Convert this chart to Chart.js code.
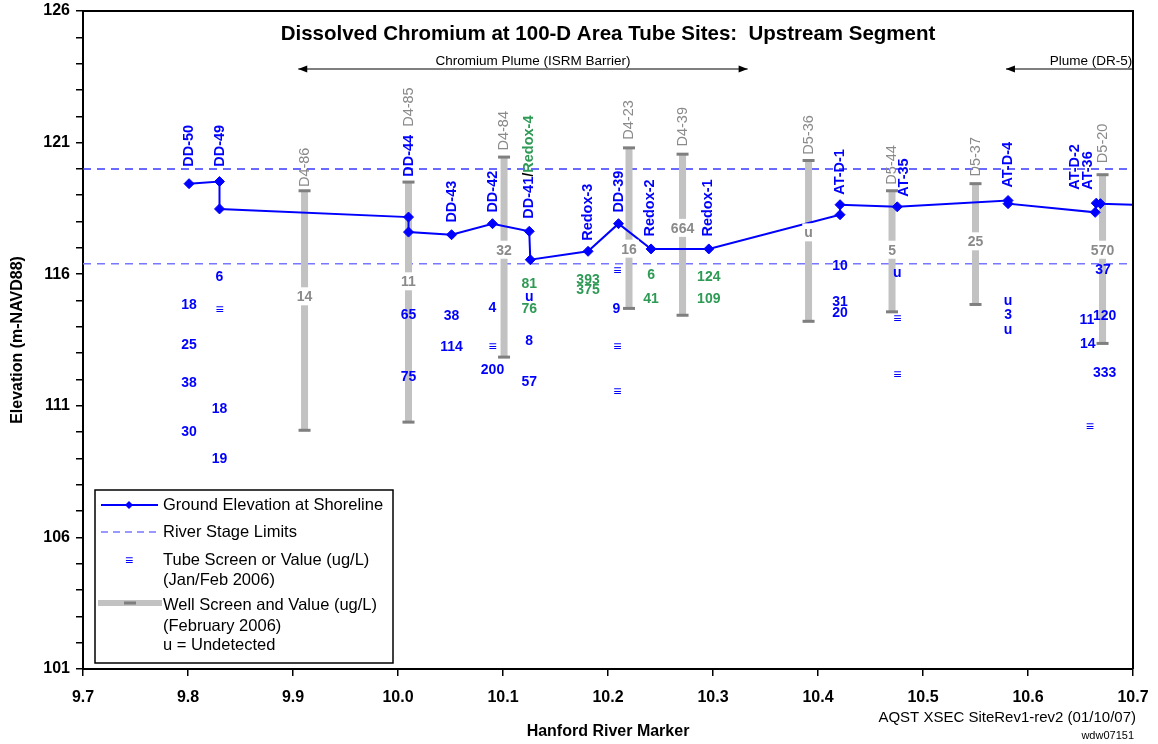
<!DOCTYPE html>
<html>
<head>
<meta charset="utf-8">
<title>Dissolved Chromium at 100-D Area Tube Sites</title>
<script src="https://cdn.jsdelivr.net/npm/chart.js@4.4.0/dist/chart.umd.min.js"></script>
<style>
  html, body { margin: 0; padding: 0; background: #fff; }
  #grafico { display: block; }
</style>
</head>
<body>
<canvas id="grafico" width="1158" height="744"></canvas>
<script>
/* =========================================================
   Seção transversal do cromo dissolvido — trecho a montante
   ========================================================= */

// Elevação do terreno na margem (marco do rio x m-NAVD88), na ordem da linha
const marcoTerreno = [9.801, 9.83, 9.83, 10.01, 10.01, 10.051, 10.09, 10.125, 10.126, 10.181,
                      10.21, 10.241, 10.296, 10.421, 10.421, 10.4755, 10.581, 10.581, 10.664, 10.665,
                      10.669, 10.7];
const elevTerreno = [119.44, 119.52, 118.48, 118.17, 117.60, 117.50, 117.92, 117.63, 116.55, 116.87,
                     117.92, 116.96, 116.96, 118.26, 118.64, 118.56, 118.80, 118.68, 118.35, 118.70,
                     118.68, 118.64];

// Limites do nível do rio
const nivelRio = [120.0, 116.4];

// Poços: filtro (topo/base), valor (ug/L) e posição do valor
const pocoNomes = ["D4-86", "D4-85", "D4-84", "D4-23", "D4-39", "D5-36", "D5-44", "D5-37", "D5-20"];
const pocoMarco = [9.911, 10.01, 10.101, 10.22, 10.271, 10.391, 10.4705, 10.55, 10.671];
const pocoTopo = [119.17, 119.50, 120.45, 120.80, 120.56, 120.32, 119.17, 119.44, 119.78];
const pocoBase = [110.07, 110.38, 112.85, 114.70, 114.44, 114.21, 114.57, 114.85, 113.37];
const pocoValor = ["14", "11", "32", "16", "664", "u", "5", "25", "570"];
const pocoElevValor = [115.16, 115.73, 116.93, 116.97, 117.76, 117.59, 116.93, 117.25, 116.93];
const pocoElevNome = [119.31, 121.60, 120.70, 121.11, 120.85, 120.54, 119.40, 119.71, 120.22];

// Nomes dos tubos (rótulo vertical a partir da elevação indicada)
const tuboNomes = ["DD-50", "DD-49", "DD-44", "DD-43", "DD-42", "DD-41/Redox-4", "Redox-3", "DD-39",
                   "Redox-2", "Redox-1", "AT-D-1", "AT-35", "AT-D-4", "AT-D-2", "AT-36"];
const tuboMarco = [9.801, 9.83, 10.01, 10.051, 10.0905, 10.125, 10.181, 10.2105,
                   10.24, 10.2955, 10.421, 10.482, 10.5807, 10.6448, 10.657];
const tuboElevNome = [120.08, 120.08, 119.70, 117.96, 118.34, 118.11, 117.27, 118.34,
                      117.43, 117.43, 119.02, 118.94, 119.29, 119.21, 119.21];

// Valores nos tubos DD / AT (ug/L; "≡" = filtro sem valor, "u" = não detectado)
const tuboValMarco = [9.801, 9.801, 9.801, 9.801, 9.83, 9.83, 9.83, 9.83,
                      10.01, 10.01, 10.051, 10.051, 10.09, 10.09, 10.09,
                      10.125, 10.125, 10.125, 10.209, 10.208, 10.209, 10.209,
                      10.421, 10.421, 10.421, 10.4755, 10.4755, 10.4755,
                      10.581, 10.581, 10.581, 10.656, 10.657, 10.659, 10.6715, 10.673, 10.673];
const tuboValElev = [114.87, 113.33, 111.90, 110.04, 115.92, 114.66, 110.93, 109.00,
                     114.49, 112.13, 114.43, 113.26, 114.74, 113.26, 112.38,
                     115.16, 113.48, 111.94, 116.17, 114.72, 113.26, 111.56,
                     116.33, 114.97, 114.57, 116.07, 114.34, 112.19,
                     115.00, 114.47, 113.90, 114.28, 113.37, 110.23, 116.20, 114.43, 112.26];
const tuboValTexto = ["18", "25", "38", "30", "6", "≡", "18", "19",
                      "65", "75", "38", "114", "4", "≡", "200",
                      "u", "8", "57", "≡", "9", "≡", "≡",
                      "10", "31", "20", "u", "≡", "≡",
                      "u", "3", "u", "11", "14", "≡", "37", "120", "333"];

// Valores nos tubos Redox
const redoxValMarco = [10.125, 10.125, 10.181, 10.181, 10.241, 10.241, 10.296, 10.296];
const redoxValElev = [115.67, 114.72, 115.82, 115.44, 116.01, 115.10, 115.92, 115.10];
const redoxValTexto = ["81", "76", "393", "375", "6", "41", "124", "109"];

// Plumas indicadas no topo (marco inicial / final / centro do texto)
const plumaNomes = ["Chromium Plume (ISRM Barrier)", "Plume (DR-5)"];
const plumaInicio = [9.905, 10.579];
const plumaFim = [10.333, 10.7];
const plumaTexto = [10.1286, 10.66];

// ---------- Estilo ----------
const FONTE = "'Liberation Sans', Arial, sans-serif";
const AZUL = "#0000ff";
const VERDE = "#2e9a55";
const CINZA = "#8a8a8a";

/** Conjunto só de texto: pontos invisíveis posicionados pelas escalas */
function conjuntoTexto(marcos, elevs, textos, extra) {
  return Object.assign({
    data: marcos.map((m, i) => ({ x: m, y: elevs[i] })),
    textos,
    showLine: false,
    pointRadius: 0,
    pointHoverRadius: 0,
    order: 0,
  }, extra);
}

/** Texto vertical (de baixo para cima) a partir de yBase; aceita "A/B" em cores */
function textoVertical(ctx, texto, x, yBase, cor) {
  ctx.save();
  ctx.translate(x, yBase);
  ctx.rotate(-Math.PI / 2);
  ctx.textAlign = "left";
  ctx.textBaseline = "middle";
  let partes = [[texto, cor]];
  if (texto.includes("/")) {
    const [a, b] = texto.split("/");
    partes = [[a, AZUL], ["/", "#000"], [b, VERDE]];
  }
  let pos = 0;
  partes.forEach(([t, c]) => {
    ctx.fillStyle = c;
    ctx.fillText(t, pos, 0);
    pos += ctx.measureText(t).width;
  });
  ctx.restore();
}

function seta(ctx, x, y, dir) {
  ctx.beginPath();
  ctx.moveTo(x, y);
  ctx.lineTo(x - dir * 9, y - 3.5);
  ctx.lineTo(x - dir * 9, y + 3.5);
  ctx.closePath();
  ctx.fill();
}

// ---------- Plugins ----------

// Desenha os textos dos conjuntos que têm "textos"
const pluginTextos = {
  id: "textos",
  afterDatasetsDraw(chart) {
    const ctx = chart.ctx;
    chart.data.datasets.forEach((ds, i) => {
      if (!ds.textos) return;
      const meta = chart.getDatasetMeta(i);
      ctx.save();
      ctx.font = ds.fonte;
      meta.data.forEach((p, j) => {
        const t = ds.textos[j];
        if (ds.vertical) {
          textoVertical(ctx, t, p.x, p.y, ds.corTexto);
          return;
        }
        if (ds.fundoBranco) {
          const w = Math.max(ctx.measureText(t).width + 4, 12);
          ctx.fillStyle = "#fff";
          ctx.fillRect(p.x - w / 2, p.y - 9, w, 18);
        }
        ctx.fillStyle = ds.corTexto;
        ctx.textAlign = "center";
        ctx.textBaseline = "middle";
        ctx.fillText(t, p.x, p.y + 1);
      });
      ctx.restore();
    });
  },
};

// Moldura, título interno, plumas, legenda e notas
const pluginMoldura = {
  id: "moldura",
  afterDraw(chart) {
    const { ctx, chartArea: a, scales } = chart;
    ctx.save();
    ctx.strokeStyle = "#000";
    ctx.lineWidth = 2;
    ctx.beginPath();
    ctx.moveTo(a.left, a.top);
    ctx.lineTo(a.right, a.top);
    ctx.lineTo(a.right, a.bottom);
    ctx.stroke();

    // título
    ctx.fillStyle = "#000";
    ctx.font = "bold 20.5px " + FONTE;
    ctx.textAlign = "center";
    ctx.textBaseline = "middle";
    ctx.fillText("Dissolved Chromium at 100-D Area Tube Sites:  Upstream Segment",
                 (a.left + a.right) / 2, a.top + 23);

    // plumas
    ctx.font = "13.5px " + FONTE;
    ctx.lineWidth = 1.2;
    plumaNomes.forEach((nome, i) => {
      const x1 = scales.x.getPixelForValue(plumaInicio[i]);
      const x2 = scales.x.getPixelForValue(plumaFim[i]);
      const y = a.top + 58;
      ctx.beginPath();
      ctx.moveTo(x1, y);
      ctx.lineTo(x2, y);
      ctx.stroke();
      seta(ctx, x1, y, -1);
      if (plumaFim[i] < scales.x.max) seta(ctx, x2, y, 1);
      ctx.fillText(nome, scales.x.getPixelForValue(plumaTexto[i]), a.top + 50);
    });

    // legenda
    const x0 = a.left + 12, y0 = a.bottom - 179, tx = x0 + 68;
    ctx.fillStyle = "#fff";
    ctx.fillRect(x0, y0, 298, 173);
    ctx.strokeStyle = "#000";
    ctx.lineWidth = 1.5;
    ctx.strokeRect(x0, y0, 298, 173);

    ctx.strokeStyle = AZUL;
    ctx.lineWidth = 2;
    ctx.beginPath();
    ctx.moveTo(x0 + 6, y0 + 15);
    ctx.lineTo(x0 + 63, y0 + 15);
    ctx.stroke();
    ctx.fillStyle = AZUL;
    ctx.beginPath();
    ctx.moveTo(x0 + 34, y0 + 11);
    ctx.lineTo(x0 + 38, y0 + 15);
    ctx.lineTo(x0 + 34, y0 + 19);
    ctx.lineTo(x0 + 30, y0 + 15);
    ctx.closePath();
    ctx.fill();

    ctx.strokeStyle = "#7777ff";
    ctx.lineWidth = 1.5;
    ctx.setLineDash([7, 5]);
    ctx.beginPath();
    ctx.moveTo(x0 + 6, y0 + 42);
    ctx.lineTo(x0 + 66, y0 + 42);
    ctx.stroke();
    ctx.setLineDash([]);

    ctx.font = "bold 14px " + FONTE;
    ctx.fillText("≡", x0 + 34, y0 + 71);

    ctx.strokeStyle = "#c2c2c2";
    ctx.lineWidth = 6;
    ctx.beginPath();
    ctx.moveTo(x0 + 3, y0 + 113);
    ctx.lineTo(x0 + 67, y0 + 113);
    ctx.stroke();
    ctx.strokeStyle = "#7f7f7f";
    ctx.lineWidth = 3;
    ctx.beginPath();
    ctx.moveTo(x0 + 29, y0 + 113);
    ctx.lineTo(x0 + 41, y0 + 113);
    ctx.stroke();

    ctx.fillStyle = "#000";
    ctx.font = "16.5px " + FONTE;
    ctx.textAlign = "left";
    [["Ground Elevation at Shoreline", 15], ["River Stage Limits", 42],
     ["Tube Screen or Value (ug/L)", 70], ["(Jan/Feb 2006)", 90],
     ["Well Screen and Value (ug/L)", 115], ["(February 2006)", 136],
     ["u = Undetected", 155]].forEach(([t, dy]) => ctx.fillText(t, tx, y0 + dy));

    // notas no canto
    ctx.textAlign = "right";
    ctx.font = "15px " + FONTE;
    ctx.fillText("AQST XSEC SiteRev1-rev2 (01/10/07)", a.right + 3, 718);
    ctx.font = "11px " + FONTE;
    ctx.fillText("wdw07151", a.right + 1, 736);
    ctx.restore();
  },
};

// ---------- Montagem ----------
const dadosPocos = [];
pocoNomes.forEach((_, i) => {
  dadosPocos.push({ x: pocoMarco[i], y: pocoTopo[i] },
                  { x: pocoMarco[i], y: pocoBase[i] },
                  { x: pocoMarco[i], y: null });
});

const linhaNivel = (elev, cor) => ({
  data: [{ x: 9.7, y: elev }, { x: 10.7, y: elev }],
  showLine: true,
  borderColor: cor,
  borderWidth: 1.5,
  borderDash: [8, 6],
  pointRadius: 0,
  order: 3,
});

new Chart(document.getElementById("grafico"), {
  type: "scatter",
  data: {
    datasets: [
      {
        label: "Ground Elevation at Shoreline",
        data: marcoTerreno.map((m, i) => ({ x: m, y: elevTerreno[i] })),
        showLine: true,
        borderColor: AZUL,
        backgroundColor: AZUL,
        borderWidth: 2,
        pointStyle: "rectRot",
        pointRadius: (c) => (c.dataIndex === marcoTerreno.length - 1 ? 0 : 5),
        pointBorderWidth: 1,
        order: 1,
      },
      linhaNivel(nivelRio[0], "#3a3aff"),
      linhaNivel(nivelRio[1], "#7777ff"),
      {
        label: "Well Screen",
        data: dadosPocos,
        showLine: true,
        spanGaps: false,
        borderColor: "#c2c2c2",
        borderWidth: 7,
        pointStyle: "line",
        pointRadius: 6,
        pointBorderWidth: 3,
        pointBorderColor: "#7f7f7f",
        order: 2,
      },
      conjuntoTexto(pocoMarco, pocoElevValor, pocoValor,
                    { fonte: "bold 14px " + FONTE, corTexto: CINZA, fundoBranco: true }),
      conjuntoTexto(pocoMarco, pocoElevNome, pocoNomes,
                    { fonte: "14.5px " + FONTE, corTexto: CINZA, vertical: true }),
      conjuntoTexto(tuboMarco, tuboElevNome, tuboNomes,
                    { fonte: "bold 14.5px " + FONTE, corTexto: AZUL, vertical: true }),
      conjuntoTexto(tuboValMarco, tuboValElev, tuboValTexto,
                    { fonte: "bold 14px " + FONTE, corTexto: AZUL }),
      conjuntoTexto(redoxValMarco, redoxValElev, redoxValTexto,
                    { fonte: "bold 14px " + FONTE, corTexto: VERDE }),
    ],
  },
  options: {
    responsive: false,
    animation: false,
    layout: { padding: { left: 0, right: 25, top: 11, bottom: 0 } },
    plugins: {
      legend: { display: false },
      tooltip: { enabled: false },
    },
    scales: {
      x: {
        type: "linear",
        min: 9.7,
        max: 10.7,
        afterFit: (s) => { s.height = 75; s.paddingLeft = 0; s.paddingRight = 0; },
        ticks: {
          stepSize: 0.1,
          autoSkip: false,
          maxRotation: 0,
          padding: 12,
          color: "#000",
          font: { family: FONTE, size: 16, weight: "bold" },
          callback: (v) => Number(v).toFixed(1),
        },
        grid: { drawOnChartArea: false, tickLength: 7, color: "#000", lineWidth: 1.5 },
        border: { color: "#000", width: 2 },
        title: {
          display: true,
          text: "Hanford River Marker",
          color: "#000",
          font: { family: FONTE, size: 16, weight: "bold" },
          padding: { top: 0, bottom: 3 },
        },
      },
      y: {
        min: 101,
        max: 126,
        afterFit: (s) => { s.width = 83; s.paddingTop = 0; s.paddingBottom = 0; },
        ticks: {
          stepSize: 1,
          autoSkip: false,
          padding: 6,
          color: "#000",
          font: { family: FONTE, size: 16, weight: "bold" },
          callback: (v) => ((v - 101) % 5 === 0 ? v : ""),
        },
        grid: { drawOnChartArea: false, tickLength: 7, color: "#000", lineWidth: 1.5 },
        border: { color: "#000", width: 2 },
        title: {
          display: true,
          text: "Elevation (m-NAVD88)",
          color: "#000",
          font: { family: FONTE, size: 16, weight: "bold" },
          padding: { top: 8, bottom: 0 },
        },
      },
    },
  },
  plugins: [pluginTextos, pluginMoldura],
});
</script>
</body>
</html>
